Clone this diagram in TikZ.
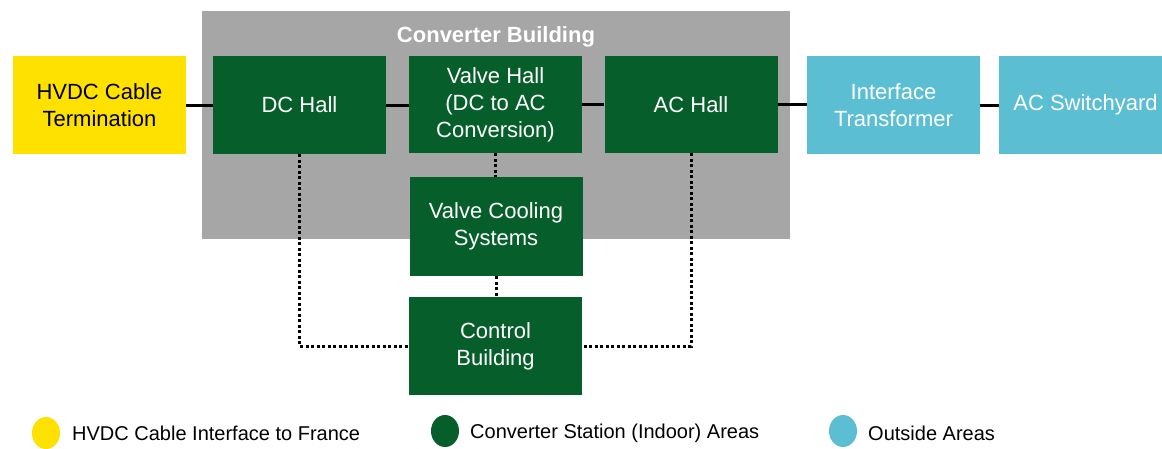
\documentclass[tikz,border=0pt]{standalone}
\usepackage{fontspec}
\setmainfont{Liberation Sans}
\usetikzlibrary{shapes.geometric}
\definecolor{hvyellow}{HTML}{FFE100}
\definecolor{hvgreen}{HTML}{065F2B}
\definecolor{hvblue}{HTML}{5BBED3}
\definecolor{hvgray}{HTML}{A6A6A6}
\tikzset{
  box/.style={rectangle, inner sep=0pt, minimum width=173pt, minimum height=98pt, align=center,
    font=\fontsize{22}{27}\selectfont},
  greenbox/.style={box, fill=hvgreen, text=white},
  bluebox/.style={box, fill=hvblue, text=white},
  yellowbox/.style={box, fill=hvyellow, text=black},
  solidlink/.style={line width=3pt, black},
  dotlink/.style={line width=3pt, black, dash pattern=on 3pt off 2.5pt},
  legdot/.style={ellipse, inner sep=0pt, minimum width=28pt, minimum height=32pt},
  legtext/.style={anchor=west, inner sep=0pt, font=\fontsize{20}{24}\selectfont, text=black}
}
\begin{document}
\begin{tikzpicture}[x=1pt,y=-1pt]
\useasboundingbox (0,0) rectangle (1162,448);
\fill[white] (0,0) rectangle (1162,448);
\begin{scope}
\clip (0,0) rectangle (1162,448);
% building
\fill[hvgray] (202,11) rectangle (790,239);
\node[font=\fontsize{22}{27}\selectfont\bfseries, text=white] (title) at (496,37) {Converter Building};

\node[yellowbox] (term) at (99.5,105) {HVDC Cable\\Termination};
\node[greenbox] (dc) at (299.5,105) {DC Hall};
\node[greenbox, minimum height=97pt] (valve) at (495.5,104.5) {Valve Hall\\(DC to AC\\Conversion)};
\node[greenbox, minimum height=97pt] (ac) at (691,104.5) {AC Hall};
\node[bluebox] (tr) at (893.5,105) {Interface\\Transformer};
\node[bluebox] (sw) at (1085.5,105) {AC Switchyard};
\node[greenbox, minimum height=99pt] (cool) at (496,226.5) {Valve Cooling\\Systems};
\node[greenbox] (ctrl) at (495.5,346) {Control\\Building};

\draw[solidlink] (term.east) -- (term.east -| dc.west);
\draw[solidlink] (dc.east) -- (dc.east -| valve.west);
\draw[solidlink] (valve.east) -- (valve.east -| ac.west);
\draw[solidlink] (ac.east) -- (ac.east -| tr.west);
\draw[solidlink] (tr.east) -- (tr.east -| sw.west);

\draw[dotlink] (dc.south) |- (ctrl.west);
\draw[dotlink] (ac.south) |- (ctrl.east);
\draw[dotlink] (valve.south) -- (valve.south |- cool.north);
\draw[dotlink] (cool.south) -- (cool.south |- ctrl.north);

% legend
\node[legdot, fill=hvyellow] (l1) at (46,433) {};
\node[legtext] (t1) at (72,433) {HVDC Cable Interface to France};
\node[legdot, fill=hvgreen] (l2) at (445,431) {};
\node[legtext] (t2) at (470,433) {Converter Station (Indoor) Areas};
\node[legdot, fill=hvblue] (l3) at (843,431) {};
\node[legtext] (t3) at (868,433) {Outside Areas};
\end{scope}
\end{tikzpicture}
\end{document}
